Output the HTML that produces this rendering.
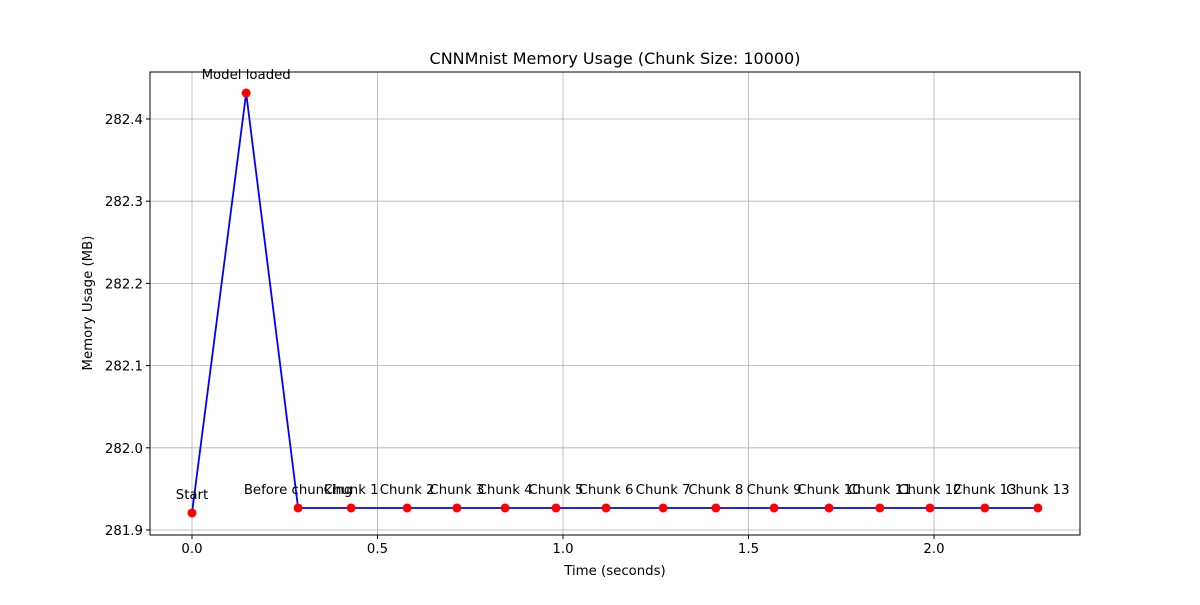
<!DOCTYPE html>
<html><head><meta charset="utf-8"><style>
body{margin:0;background:#fff;}
svg{font-family:"DejaVu Sans","Liberation Sans",sans-serif;}
</style></head><body>
<svg id="chart" width="1200" height="600"></svg>
<script>
const labels=["Start","Model loaded","Before chunking","Chunk 1","Chunk 2","Chunk 3","Chunk 4","Chunk 5","Chunk 6","Chunk 7","Chunk 8","Chunk 9","Chunk 10","Chunk 11","Chunk 12","Chunk 13","Chunk 13"];
const times=[0,0.146,0.286,0.429,0.580,0.714,0.844,0.981,1.116,1.270,1.412,1.569,1.717,1.854,1.989,2.137,2.280];
const memory=[281.9207,282.4316,281.9268,281.9268,281.9268,281.9268,281.9268,281.9268,281.9268,281.9268,281.9268,281.9268,281.9268,281.9268,281.9268,281.9268,281.9268];
const xTicks=[0.0,0.5,1.0,1.5,2.0];
const yTicks=[281.9,282.0,282.1,282.2,282.3,282.4];
const xs=v=>192+v*371;
const ys=v=>530-(v-281.9)*822;
const L=150,R=1080,T=72,B=535;
const NS="http://www.w3.org/2000/svg";
const svg=document.getElementById('chart');
function mk(tag,attrs,text){const e=document.createElementNS(NS,tag);for(const k in attrs)e.setAttribute(k,attrs[k]);if(text!==undefined)e.textContent=text;svg.appendChild(e);return e;}
xTicks.forEach(t=>{const x=xs(t);
const g=mk('line',{x1:x,x2:x,y1:T,y2:B,stroke:'#b0b0b0','stroke-width':0.8});


mk('line',{x1:x,x2:x,y1:B,y2:B+4,stroke:'#000'});
const tl=mk('text',{x:x,y:B+18,'font-size':13.3,'text-anchor':'middle'},t.toFixed(1));

});
yTicks.forEach(t=>{const y=ys(t);
const g=mk('line',{x1:L,x2:R,y1:y,y2:y,stroke:'#b0b0b0','stroke-width':0.8});


mk('line',{x1:L-4,x2:L,y1:y,y2:y,stroke:'#000'});
const tl=mk('text',{x:L-7,y:y+5,'font-size':13.3,'text-anchor':'end'},t.toFixed(1));

});
const pts=memory.map((m,i)=>xs(times[i])+','+ys(m)).join(' ');
const line=mk('polyline',{points:pts,fill:'none',stroke:'#0000ff','stroke-width':1.8});


memory.forEach((m,i)=>{const x=xs(times[i]),y=ys(m);
const c=mk('circle',{cx:x,cy:y,r:4.5,fill:'#ff0000'});


const t=mk('text',{x:x,y:y-14,'font-size':13.3,'text-anchor':'middle'},labels[i]);

});
const fr=mk('rect',{x:L,y:T,width:R-L,height:B-T,fill:'none',stroke:'#000','stroke-width':1});


const ti=mk('text',{x:615,y:64,'font-size':16,'text-anchor':'middle'},'CNNMnist Memory Usage (Chunk Size: 10000)');


const xl=mk('text',{x:615,y:575,'font-size':13.3,'text-anchor':'middle'},'Time (seconds)');


const yl=mk('text',{x:92,y:303,'font-size':13.3,'text-anchor':'middle',transform:'rotate(-90 92 303)'},'Memory Usage (MB)');


</script>
</body></html>
